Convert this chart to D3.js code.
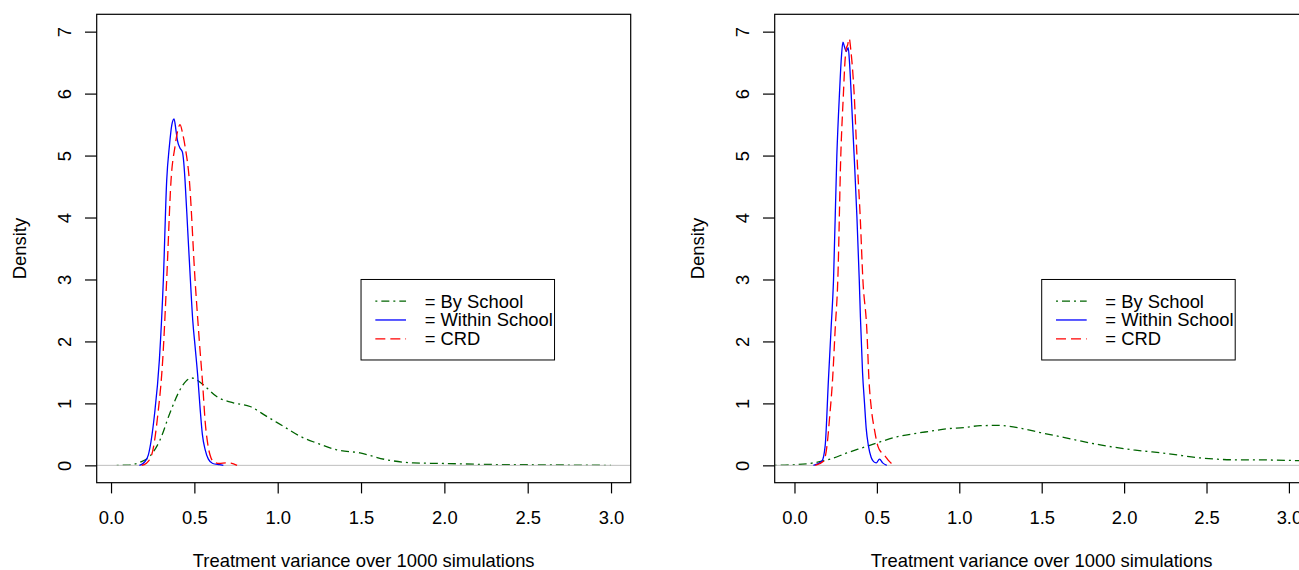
<!DOCTYPE html>
<html>
<head>
<meta charset="utf-8">
<script src="https://cdn.jsdelivr.net/npm/d3@7"></script>
<style>
  body { margin: 0; background: #fff; }
  svg { display: block; font-family: "Liberation Sans", Arial, sans-serif; }
</style>
</head>
<body>
<svg id="chart" width="1299" height="570"></svg>
<script>
// density curves, [x, density]
const leftBySchool = [[0.034,0],[0.10,0.005],[0.174,0.05],[0.234,0.15],[0.294,0.41],[0.354,0.85],[0.414,1.22],[0.45,1.36],[0.484,1.41],[0.52,1.37],[0.554,1.30],[0.634,1.11],[0.734,1.01],[0.834,0.95],[0.934,0.79],[1.034,0.63],[1.134,0.47],[1.234,0.36],[1.354,0.25],[1.494,0.20],[1.654,0.09],[1.814,0.04],[2.0,0.03],[2.25,0.015],[2.5,0.01],[2.75,0.005],[3.0,0]];
const leftWithin = [[0.17,0],[0.20,0.05],[0.224,0.17],[0.26,0.8],[0.29,1.7],[0.314,3.0],[0.334,4.6],[0.35,5.15],[0.365,5.5],[0.378,5.59],[0.39,5.4],[0.398,5.25],[0.414,5.12],[0.428,5.06],[0.436,4.9],[0.444,4.6],[0.46,3.8],[0.476,3.0],[0.49,2.35],[0.505,1.9],[0.52,1.45],[0.535,0.9],[0.548,0.5],[0.565,0.25],[0.584,0.1],[0.61,0.03],[0.65,0.01],[0.674,0]];
const leftCRD = [[0.184,0],[0.21,0.03],[0.244,0.17],[0.28,0.8],[0.31,1.7],[0.334,3.0],[0.36,4.6],[0.384,5.15],[0.40,5.4],[0.414,5.50],[0.43,5.35],[0.444,5.15],[0.47,4.6],[0.504,3.0],[0.53,2.0],[0.55,1.3],[0.565,0.7],[0.58,0.35],[0.60,0.12],[0.62,0.05],[0.65,0.03],[0.69,0.04],[0.72,0.035],[0.756,0]];

const rightBySchool = [[-0.12,0],[0.0,0.01],[0.115,0.04],[0.217,0.10],[0.318,0.20],[0.419,0.29],[0.52,0.38],[0.621,0.46],[0.722,0.51],[0.823,0.55],[0.925,0.59],[1.026,0.61],[1.127,0.64],[1.228,0.645],[1.37,0.60],[1.491,0.53],[1.653,0.44],[1.855,0.33],[2.057,0.25],[2.26,0.19],[2.462,0.12],[2.664,0.09],[2.866,0.087],[3.06,0.075],[3.2,0.06]];
const rightWithin = [[0.115,0],[0.166,0.065],[0.186,0.31],[0.206,1.38],[0.222,2.2],[0.237,3.0],[0.257,5.0],[0.273,6.0],[0.285,6.6],[0.294,6.83],[0.304,6.75],[0.314,6.68],[0.326,6.74],[0.334,6.5],[0.344,6.0],[0.362,5.0],[0.379,4.0],[0.393,3.0],[0.40,2.4],[0.413,1.5],[0.425,1.0],[0.435,0.6],[0.449,0.31],[0.465,0.13],[0.48,0.06],[0.496,0.04],[0.516,0.10],[0.535,0.04],[0.56,0]];
const rightCRD = [[0.126,0],[0.176,0.065],[0.197,0.31],[0.214,0.8],[0.231,1.38],[0.247,2.2],[0.263,3.0],[0.281,5.0],[0.297,6.0],[0.306,6.5],[0.314,6.73],[0.322,6.78],[0.332,6.89],[0.342,6.7],[0.362,6.0],[0.379,5.0],[0.399,4.0],[0.415,3.0],[0.439,2.19],[0.452,1.38],[0.467,0.9],[0.485,0.58],[0.506,0.31],[0.53,0.2],[0.55,0.15],[0.57,0.08],[0.60,0]];

const xTicks = [0, 0.5, 1.0, 1.5, 2.0, 2.5, 3.0];
const yTicks = [0, 1, 2, 3, 4, 5, 6, 7];
const legendLabels = ["= By School", "= Within School", "= CRD"];

const styles = [
  { color: "#006400", dash: "2,4,8,4" },
  { color: "#0000ff", dash: null },
  { color: "#ff0000", dash: "10,5" }
];

const svg = d3.select("#chart");
const fontSize = 18.4;

function drawPanel(offsetX, xDomain, series, id) {
  const left = offsetX + 96.7, right = offsetX + 630.7;
  const top = 14.3, bottom = 482.7;

  const x = d3.scaleLinear().domain(xDomain).range([left, right]);
  const y = d3.scaleLinear().domain([-0.28, 7.28]).range([bottom, top]);

  const g = svg.append("g");

  g.append("clipPath").attr("id", id)
    .append("rect")
      .attr("x", left).attr("y", top)
      .attr("width", right - left).attr("height", bottom - top);

  const plot = g.append("g").attr("clip-path", `url(#${id})`);

  const line = d3.line()
    .x(d => x(d[0]))
    .y(d => y(d[1]))
    .curve(d3.curveMonotoneX);

  // first curve, then the zero line, then the others (like plot + lines in R)
  series.forEach((s, i) => {
    plot.append("path")
      .datum(s)
      .attr("d", line)
      .attr("fill", "none")
      .attr("stroke", styles[i].color)
      .attr("stroke-width", 1.3)
      .attr("stroke-dasharray", styles[i].dash);
    if (i === 0) {
      plot.append("line")
        .attr("x1", left).attr("x2", right)
        .attr("y1", y(0)).attr("y2", y(0))
        .attr("stroke", "#bebebe")
        .attr("stroke-width", 1);
    }
  });

  // box
  g.append("rect")
    .attr("x", left).attr("y", top)
    .attr("width", right - left).attr("height", bottom - top)
    .attr("fill", "none").attr("stroke", "#000").attr("stroke-width", 1.2);

  // x axis
  const xAxis = g.append("g")
    .attr("transform", `translate(0,${bottom})`)
    .call(d3.axisBottom(x).tickValues(xTicks).tickFormat(d3.format(".1f")).tickSize(10.7));
  xAxis.select(".domain").remove();
  xAxis.selectAll("line").attr("stroke", "#000").attr("stroke-width", 1.2);
  xAxis.selectAll("text")
    .attr("y", 524 - bottom).attr("dy", 0)
    .attr("font-size", fontSize).attr("fill", "#000")
    .attr("font-family", "Liberation Sans, Arial, sans-serif");

  // y axis
  const yAxis = g.append("g")
    .attr("transform", `translate(${left},0)`)
    .call(d3.axisLeft(y).tickValues(yTicks).tickFormat(d3.format("d")).tickSize(11.7));
  yAxis.select(".domain").remove();
  yAxis.selectAll("line").attr("stroke", "#000").attr("stroke-width", 1.2);
  yAxis.selectAll("text")
    .attr("x", 0).attr("dy", 0)
    .attr("transform", "translate(-26.2,0) rotate(-90)")
    .attr("text-anchor", "middle")
    .attr("font-size", fontSize).attr("fill", "#000")
    .attr("font-family", "Liberation Sans, Arial, sans-serif");

  // axis titles
  g.append("text")
    .attr("x", (left + right) / 2).attr("y", 567)
    .attr("text-anchor", "middle")
    .attr("font-size", fontSize)
    .text("Treatment variance over 1000 simulations");

  g.append("text")
    .attr("transform", `translate(${offsetX + 25.5},${(top + bottom) / 2}) rotate(-90)`)
    .attr("text-anchor", "middle")
    .attr("font-size", fontSize)
    .text("Density");

  // legend, top-left corner at (1.5, 3) in data units
  const lx = x(1.5), ly = y(3);
  const legend = g.append("g").attr("transform", `translate(${lx},${ly})`);
  legend.append("rect")
    .attr("width", 193.5).attr("height", 80.5)
    .attr("fill", "#fff").attr("stroke", "#000").attr("stroke-width", 1);
  legendLabels.forEach((lab, i) => {
    const ry = 21.7 + i * 18.8;
    legend.append("line")
      .attr("x1", 14.3).attr("x2", 45)
      .attr("y1", ry).attr("y2", ry)
      .attr("stroke", styles[i].color)
      .attr("stroke-width", 1.3)
      .attr("stroke-dasharray", styles[i].dash);
    legend.append("text")
      .attr("x", 63.6).attr("y", ry).attr("dy", "0.35em")
      .attr("font-size", fontSize)
      .text(lab);
  });
}

drawPanel(0, [-0.086, 3.118], [leftBySchool, leftWithin, leftCRD], "clipL");
drawPanel(678, [-0.12, 3.12], [rightBySchool, rightWithin, rightCRD], "clipR");
</script>
</body>
</html>
